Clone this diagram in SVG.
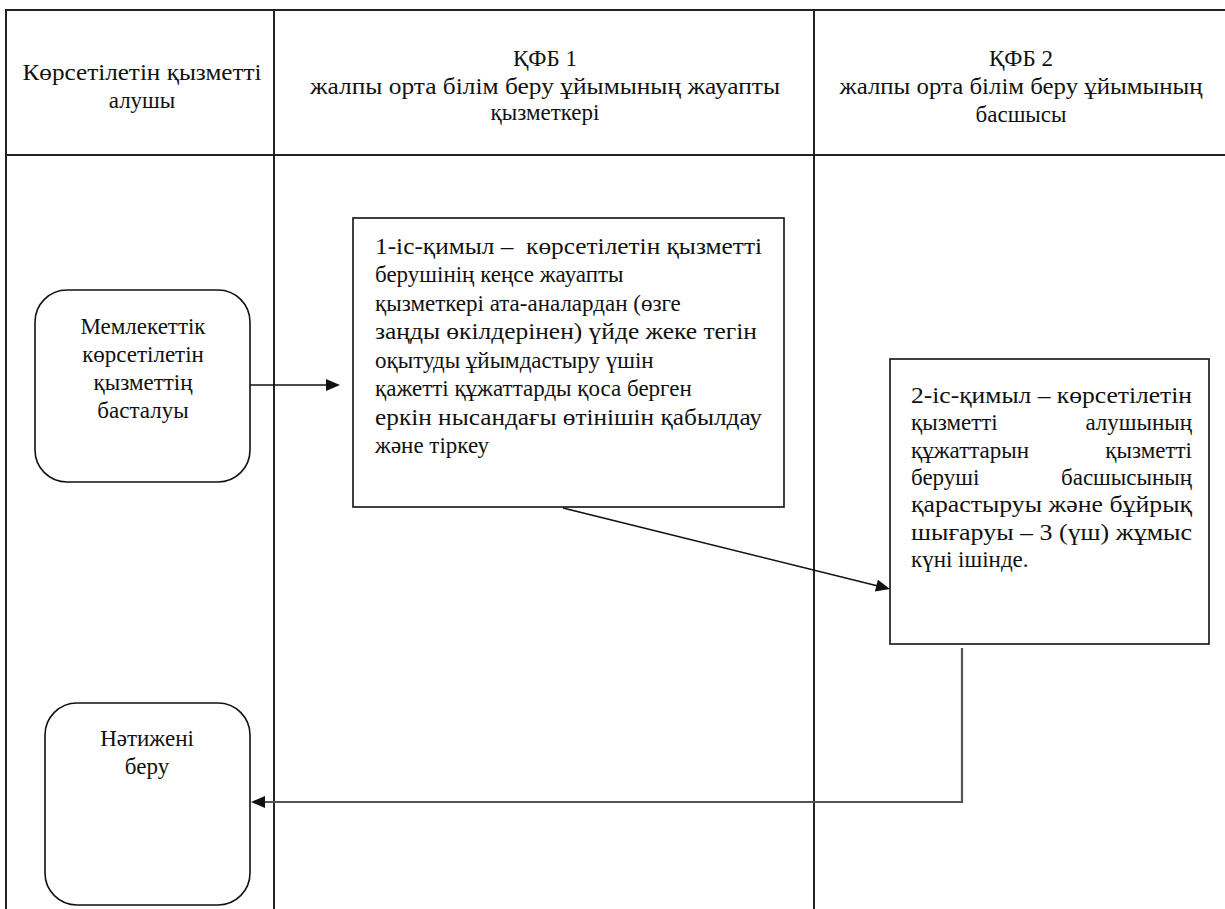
<svg xmlns="http://www.w3.org/2000/svg" width="1225" height="909" viewBox="0 0 1225 909">
<rect width="1225" height="909" fill="#fff"/>
<g id="table" stroke="#222" stroke-width="2" fill="none">
<line x1="5" y1="10" x2="1225" y2="10"/>
<line x1="6" y1="10" x2="6" y2="909"/>
<line x1="5" y1="155" x2="1225" y2="155"/>
<line x1="274" y1="10" x2="274" y2="909"/>
<line x1="814" y1="10" x2="814" y2="909"/>
</g>
<g id="header-1" font-family="Liberation Serif, DejaVu Serif Condensed, serif" font-size="23" fill="#111" text-anchor="middle">
<text x="142" y="80" textLength="239" lengthAdjust="spacingAndGlyphs">Көрсетілетін қызметті</text>
<text x="142" y="108">алушы</text>
</g>
<g id="header-2" font-family="Liberation Serif, DejaVu Serif Condensed, serif" font-size="23" fill="#111" text-anchor="middle">
<text x="545" y="66">ҚФБ 1</text>
<text x="545" y="94" textLength="470" lengthAdjust="spacingAndGlyphs">жалпы орта білім беру ұйымының жауапты</text>
<text x="545" y="120">қызметкері</text>
</g>
<g id="header-3" font-family="Liberation Serif, DejaVu Serif Condensed, serif" font-size="23" fill="#111" text-anchor="middle">
<text x="1021" y="66">ҚФБ 2</text>
<text x="1021" y="94" textLength="363" lengthAdjust="spacingAndGlyphs">жалпы орта білім беру ұйымының</text>
<text x="1021" y="122">басшысы</text>
</g>
<g id="connectors">
<line x1="250" y1="385" x2="328" y2="385" stroke="#111" stroke-width="1.6"/>
<polygon points="326,379 340,385 326,391" fill="#111"/>
<line x1="563" y1="508" x2="878" y2="586" stroke="#111" stroke-width="1.6"/>
<polygon points="877.9,579.8 890,589 874.9,591.4" fill="#111"/>
<polyline points="962,648 962,802 263,802" fill="none" stroke="#555" stroke-width="2.2"/>
<polygon points="265,796 251,802 265,808" fill="#111"/>
</g>
<g id="start" font-family="Liberation Serif, DejaVu Serif Condensed, serif" font-size="23" fill="#111" text-anchor="middle">
<rect x="35" y="290" width="215" height="192" rx="32" fill="#fff" stroke="#111" stroke-width="1.6"/>
<text x="143" y="334">Мемлекеттік</text>
<text x="143" y="362">көрсетілетін</text>
<text x="143" y="390">қызметтің</text>
<text x="143" y="418">басталуы</text>
</g>
<g id="step1" font-family="Liberation Serif, DejaVu Serif Condensed, serif" font-size="23" fill="#111">
<rect x="353" y="218" width="431" height="289" fill="#fff" stroke="#111" stroke-width="1.6"/>
<text x="375" y="254" textLength="387" lengthAdjust="spacingAndGlyphs">1-іс-қимыл –&#160; көрсетілетін қызметті</text>
<text x="375" y="282">берушінің кеңсе жауапты</text>
<text x="375" y="311">қызметкері ата-аналардан (өзге</text>
<text x="375" y="339" textLength="382" lengthAdjust="spacingAndGlyphs">заңды өкілдерінен) үйде жеке тегін</text>
<text x="375" y="368">оқытуды ұйымдастыру үшін</text>
<text x="375" y="396">қажетті құжаттарды қоса берген</text>
<text x="375" y="425" textLength="387" lengthAdjust="spacingAndGlyphs">еркін нысандағы өтінішін қабылдау</text>
<text x="375" y="453">және тіркеу</text>
</g>
<g id="step2" font-family="Liberation Serif, DejaVu Serif Condensed, serif" font-size="23" fill="#111">
<rect x="890" y="359" width="319" height="285" fill="#fff" stroke="#111" stroke-width="1.6"/>
<text x="911" y="403" textLength="281" lengthAdjust="spacingAndGlyphs">2-іс-қимыл – көрсетілетін</text>
<text x="911" y="430">қызметті</text>
<text x="1192" y="430" text-anchor="end">алушының</text>
<text x="911" y="458">құжаттарын</text>
<text x="1192" y="458" text-anchor="end">қызметті</text>
<text x="911" y="485">беруші</text>
<text x="1192" y="485" text-anchor="end">басшысының</text>
<text x="911" y="512" textLength="281" lengthAdjust="spacingAndGlyphs">қарастыруы және бұйрық</text>
<text x="911" y="540" textLength="281" lengthAdjust="spacingAndGlyphs">шығаруы – 3 (үш) жұмыс</text>
<text x="911" y="567">күні ішінде.</text>
</g>
<g id="result" font-family="Liberation Serif, DejaVu Serif Condensed, serif" font-size="23" fill="#111" text-anchor="middle">
<rect x="45" y="703" width="205" height="202" rx="32" fill="#fff" stroke="#111" stroke-width="1.6"/>
<text x="147" y="746">Нәтижені</text>
<text x="147" y="774">беру</text>
</g>
</svg>
